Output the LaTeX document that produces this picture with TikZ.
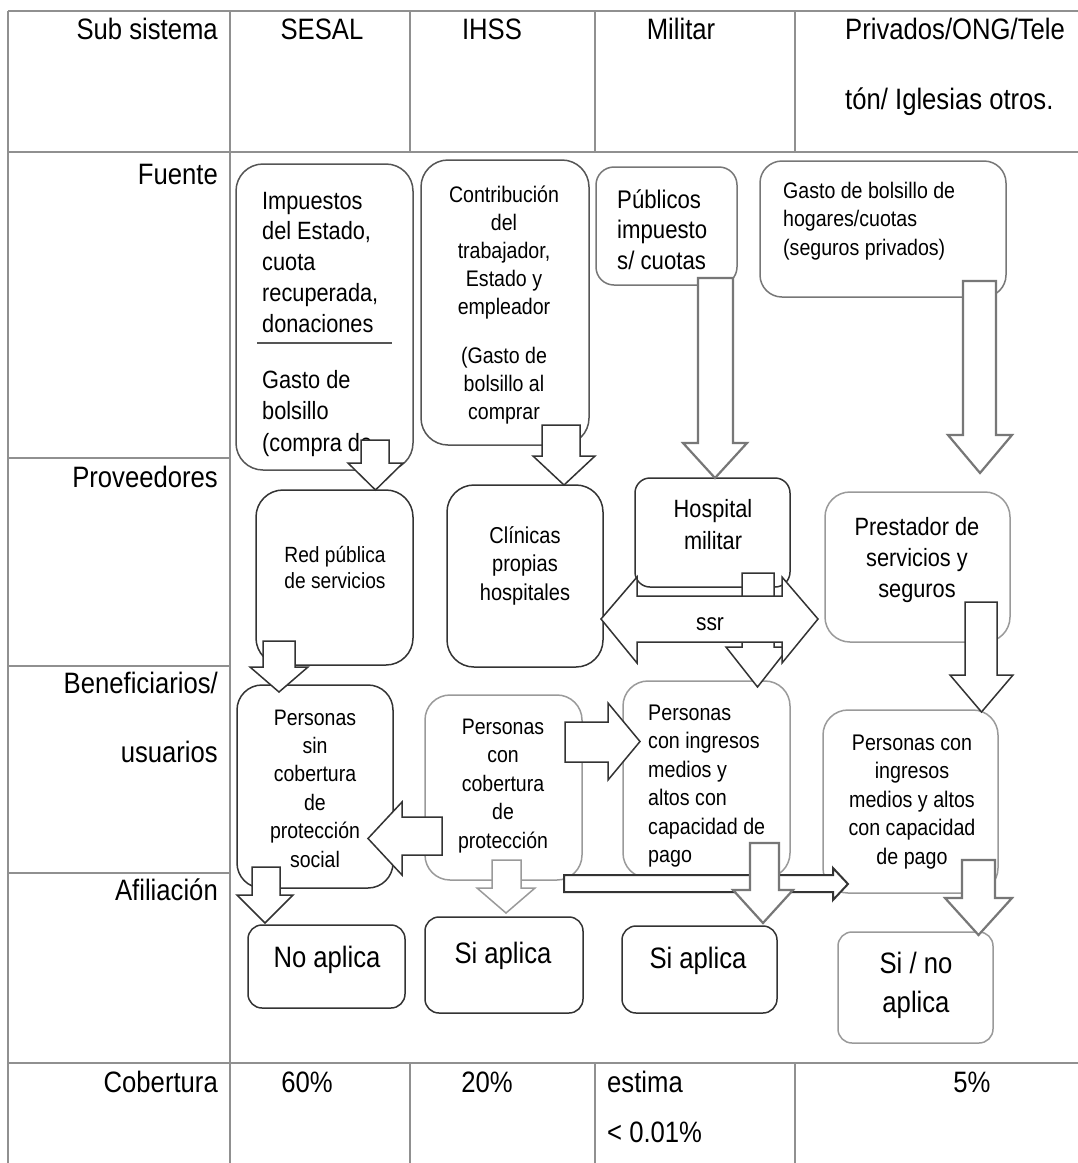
\documentclass[tikz,border=0pt]{standalone}
\usepackage{fontspec}
\setmainfont{Liberation Sans}[FakeStretch=0.87]
\usetikzlibrary{fit}
\definecolor{tblgray}{HTML}{909090}
\definecolor{dk}{HTML}{333333}
\definecolor{md}{HTML}{555555}
\definecolor{mg}{HTML}{777777}
\definecolor{lt}{HTML}{9A9A9A}
\newcommand\TL[2]{\vtop{\baselineskip=#1pt\lineskiplimit=-1000pt\lineskip=0pt\halign{##\hfil\cr#2\crcr}}}
\newcommand\TC[2]{\vtop{\baselineskip=#1pt\lineskiplimit=-1000pt\lineskip=0pt\halign{\hfil##\hfil\cr#2\crcr}}}
% down block arrow: style, xl, xr, ytop, ybase, hl, hr, tipy
\newcommand\DArrow[8]{\path[blk,#1] (#2,#4) -- (#3,#4) -- (#3,#5) -- (#7,#5) -- ({(#6+#7)/2},#8) -- (#6,#5) -- (#2,#5) -- cycle;}
% horizontal block arrow: style, xstart, shafttop, shaftbot, xbase, headtop, headbot, tipx
\newcommand\HArrow[8]{\path[blk,#1] (#2,#3) -- (#5,#3) -- (#5,#6) -- (#8,{(#6+#7)/2}) -- (#5,#7) -- (#5,#4) -- (#2,#4) -- cycle;}
% rounded box: name, color, radius, x1, y1, x2, y2
\newcommand\RBox[7]{\node[rbox, draw=#2, rounded corners=#3pt, fit={(#4,#5)(#6,#7)}] (#1) {};}
\begin{document}
\begin{tikzpicture}[x=1pt, y=-1pt,
  tline/.style={draw=tblgray, line width=1.6pt},
  rbox/.style={fill=white, line width=1.5pt, inner sep=0pt},
  blk/.style={draw=dk, fill=white, line width=1.5pt, line join=miter},
  gblk/.style={draw=mg, line width=2.2pt},
  txt/.style={inner sep=0pt, text=black},
  hd/.style={txt, font=\fontsize{29.5}{35}\selectfont}]
\useasboundingbox (0,0) rectangle (1078,1163);
\fill[white] (0,0) rectangle (1078,1163);
% ---- table ----
\draw[tline] (8,11) -- (1078,11);
\draw[tline] (8,152) -- (1078,152);
\draw[tline] (8,1063) -- (1078,1063);
\draw[tline] (8,11) -- (8,1163);
\draw[tline] (230,11) -- (230,1163);
\foreach \xx in {410,595,795} {
  \draw[tline] (\xx,11) -- (\xx,152);
  \draw[tline] (\xx,1063) -- (\xx,1163);
}
\foreach \yy in {458,666,873} \draw[tline] (8,\yy) -- (230,\yy);
% ---- header and row labels ----
\node[hd, anchor=base east] (hSub) at (218,39) {Sub sistema};
\node[hd, anchor=base] (hSesal) at (322,39) {SESAL};
\node[hd, anchor=base] (hIhss) at (492,39) {IHSS};
\node[hd, anchor=base] (hMil) at (681,39) {Militar};
\node[hd, anchor=base west] (hPriv1) at (845,39) {Privados/ONG/Tele};
\node[hd, anchor=base west] (hPriv2) at (845,109) {tón/ Iglesias otros.};
\node[hd, anchor=base east] (rFuente) at (218,184) {Fuente};
\node[hd, anchor=base east] (rProv) at (218,487) {Proveedores};
\node[hd, anchor=base east] (rBen1) at (218,693) {Beneficiarios/};
\node[hd, anchor=base east] (rBen2) at (218,762) {usuarios};
\node[hd, anchor=base east] (rAfil) at (218,900) {Afiliación};
\node[hd, anchor=base east] (rCob) at (218,1092) {Cobertura};
\node[hd, anchor=base] (c60) at (307,1092) {60\%};
\node[hd, anchor=base] (c20) at (487,1092) {20\%};
\node[hd, anchor=base west] (cEst1) at (607,1092) {estima};
\node[hd, anchor=base west] (cEst2) at (607,1142) {< 0.01\%};
\node[hd, anchor=base] (c5) at (972,1092) {5\%};
% ---- boxes ----
\RBox{sesalF}{md}{27}{236}{164}{413}{470}
\RBox{ihssF}{md}{27}{421}{160}{589}{445}
\RBox{milF}{mg}{18}{596}{167}{737}{285}
\RBox{privF}{mg}{22}{760}{161}{1006}{297}
\RBox{redP}{dk}{27}{256}{490}{413}{665}
\RBox{clin}{dk}{27}{447}{485}{603}{667}
\RBox{hosp}{dk}{15}{635}{478}{790}{587}
\RBox{prest}{lt}{25}{825}{492}{1010}{642}
\RBox{psin}{dk}{25}{237}{685}{393}{888}
\RBox{pcob}{lt}{25}{425}{695}{582}{880}
\RBox{pmil}{lt}{25}{623}{681}{790}{878}
\RBox{ppriv}{lt}{25}{823}{710}{998}{893}
\RBox{noap}{dk}{14}{248}{925}{405}{1008}
\RBox{siapA}{dk}{14}{425}{917}{583}{1013}
\RBox{siapB}{dk}{14}{622}{926}{777}{1013}
\RBox{sino}{lt}{14}{838}{932}{993}{1043}
% ---- box texts ----
\node[txt, anchor=base west, font=\fontsize{25}{31}\selectfont] (tSesalA) at (262,209)
  {\TL{30.75}{Impuestos\cr del Estado,\cr cuota\cr recuperada,\cr donaciones}};
\node[txt, anchor=base west, font=\fontsize{25}{31}\selectfont] (tSesalB) at (262,388)
  {\TL{31.5}{Gasto de\cr bolsillo\cr (compra de}};
\draw[md, line width=1.5pt] (257,343) -- (392,343);
\node[txt, anchor=base, font=\fontsize{22.5}{28}\selectfont] (tIhssA) at (504,202)
  {\TC{28}{Contribución\cr del\cr trabajador,\cr Estado y\cr empleador}};
\node[txt, anchor=base, font=\fontsize{22.5}{28}\selectfont] (tIhssB) at (504,363)
  {\TC{28}{(Gasto de\cr bolsillo al\cr comprar}};
\node[txt, anchor=base west, font=\fontsize{25.5}{30.5}\selectfont] (tMil) at (617,208)
  {\TL{30.5}{Públicos\cr impuesto\cr s/ cuotas}};
\node[txt, anchor=base west, font=\fontsize{22.5}{28.5}\selectfont] (tPriv) at (783,198)
  {\TL{28.5}{Gasto de bolsillo de\cr hogares/cuotas\cr (seguros privados)}};
\node[txt, anchor=base, font=\fontsize{22}{26}\selectfont] (tRed) at (335,562)
  {\TC{26}{Red pública\cr de servicios}};
\node[txt, anchor=base, font=\fontsize{23}{28.5}\selectfont] (tClin) at (525,543)
  {\TC{28.5}{Clínicas\cr propias\cr hospitales}};
\node[txt, anchor=base, font=\fontsize{25}{32}\selectfont] (tHosp) at (713,517)
  {\TC{32}{Hospital\cr militar}};
\node[txt, anchor=base, font=\fontsize{25}{31}\selectfont] (tPrest) at (917,535)
  {\TC{31}{Prestador de\cr servicios y\cr seguros}};
\node[txt, anchor=base, font=\fontsize{22.4}{28.4}\selectfont] (tPsin) at (315,725)
  {\TC{28.4}{Personas\cr sin\cr cobertura\cr de\cr protección\cr social}};
\node[txt, anchor=base, font=\fontsize{22.4}{28.5}\selectfont] (tPcob) at (503,734)
  {\TC{28.5}{Personas\cr con\cr cobertura\cr de\cr protección}};
\node[txt, anchor=base west, font=\fontsize{22.6}{28.5}\selectfont] (tPmil) at (648,720)
  {\TL{28.5}{Personas\cr con ingresos\cr medios y\cr altos con\cr capacidad de\cr pago}};
\node[txt, anchor=base, font=\fontsize{22.6}{28.5}\selectfont] (tPpriv) at (912,750)
  {\TC{28.5}{Personas con\cr ingresos\cr medios y altos\cr con capacidad\cr de pago}};
\node[hd, anchor=base] (tNo) at (327,967) {No aplica};
\node[hd, anchor=base] (tSiA) at (503,963) {Si aplica};
\node[hd, anchor=base] (tSiB) at (698,968) {Si aplica};
\node[hd, anchor=base] (tSino) at (916,973) {\TC{39}{Si / no\cr aplica}};
% ---- block arrows ----
\DArrow{}{361}{389}{440}{463}{348}{403}{490}
\DArrow{}{542}{580}{425}{456}{533}{595}{485}
\DArrow{gblk}{698}{733}{278}{443}{683}{747}{478}
\DArrow{gblk}{963}{996}{281}{435}{948}{1012}{473}
\DArrow{}{263}{295}{641}{667}{250}{308}{692}
\DArrow{}{742}{774}{573}{647}{726}{789}{687}
\path[blk] (601,619) -- (637,577) -- (637,596) -- (782,596) -- (782,577) -- (818,619)
  -- (782,663) -- (782,642) -- (637,642) -- (637,663) -- cycle;
\node[txt, anchor=base, font=\fontsize{24}{28}\selectfont] (tSsr) at (710,630) {ssr};
\DArrow{}{965}{997}{602}{675}{950}{1013}{712}
\DArrow{}{252}{280}{867}{895}{237}{293}{923}
\HArrow{}{442}{817}{855}{402}{802}{875}{368}
\HArrow{}{565}{722}{762}{608}{703}{780}{640}
\DArrow{draw=lt}{492}{521}{860}{888}{477}{535}{913}
\HArrow{line width=2pt}{564}{875}{892}{833}{868}{900}{848}
\DArrow{gblk}{750}{779}{843}{890}{733}{793}{923}
\DArrow{gblk}{962}{995}{860}{898}{945}{1012}{935}
\end{tikzpicture}
\end{document}
